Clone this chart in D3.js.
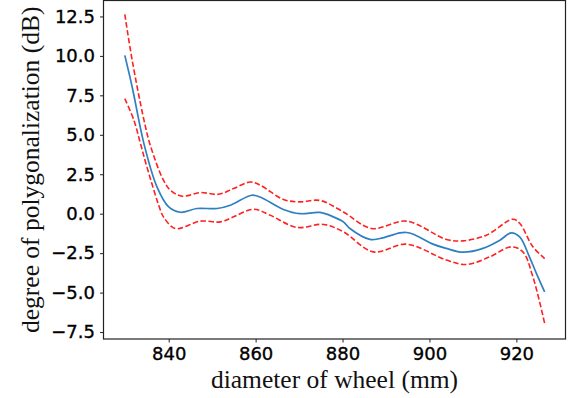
<!DOCTYPE html>
<html>
<head>
<meta charset="utf-8">
<script src="https://cdn.jsdelivr.net/npm/d3@7"></script>
<style>
  body { margin: 0; background: #fff; }
  svg { display: block; }
</style>
</head>
<body>
<div id="chart"></div>
<script>
// diameter (mm) / degree (dB)
const meanX = [829.9, 831.6, 834.3, 837.3, 840.0, 842.7, 846.5, 851.1, 854.2, 859.1, 861.0, 866.4, 870.2, 874.8, 877.9, 880.2, 881.7, 886.3, 888.6, 893.2, 894.7, 896.3, 900.8, 903.9, 907.7, 912.3, 916.2, 918.8, 920.8, 923.0, 924.6, 926.5];
const meanY = [10.03, 8.03, 4.44, 1.70, 0.43, 0.09, 0.33, 0.33, 0.54, 1.17, 1.06, 0.27, 0.0, 0.08, -0.20, -0.52, -0.94, -1.63, -1.57, -1.22, -1.19, -1.30, -1.93, -2.20, -2.44, -2.20, -1.68, -1.22, -1.49, -2.73, -3.78, -4.95];

const upperX = [829.9, 831.6, 834.3, 835.8, 838.8, 840.4, 843.1, 847.3, 851.5, 854.9, 858.8, 861.1, 866.4, 870.2, 874.8, 880.2, 886.7, 894.7, 903.9, 907.7, 913.1, 919.2, 920.8, 923.8, 926.5];
const upperY = [12.63, 9.72, 5.95, 4.30, 2.12, 1.49, 1.11, 1.34, 1.23, 1.59, 2.01, 1.80, 0.90, 0.75, 0.84, 0.11, -0.94, -0.47, -1.63, -1.72, -1.36, -0.35, -0.62, -2.10, -2.84];

const lowerX = [829.9, 832.0, 833.5, 835.0, 838.1, 838.8, 841.5, 847.3, 851.9, 854.9, 859.5, 863.3, 869.5, 875.6, 880.2, 887.1, 894.7, 903.9, 908.5, 913.9, 918.8, 921.5, 923.8, 926.5];
const lowerY = [7.29, 5.92, 4.45, 2.95, 0.22, -0.20, -0.94, -0.47, -0.52, -0.20, 0.28, -0.09, -0.87, -0.68, -1.15, -2.42, -1.93, -2.94, -3.22, -2.73, -2.10, -2.42, -4.00, -6.95];

const xTicks = [840, 860, 880, 900, 920];
const yTicks = [-7.5, -5.0, -2.5, 0.0, 2.5, 5.0, 7.5, 10.0, 12.5];

const xLabel = "diameter of wheel (mm)";
const yLabel = "degree of polygonalization (dB)";

const config = {
  width: 574,
  height: 398,
  margin: {top: 0.5, left: 103.5, right: 8.5, bottom: 59},
  domain: {x: [825, 931.3], y: [-7.94, 13.51]}
};

const innerW = config.width - config.margin.left - config.margin.right;
const innerH = config.height - config.margin.top - config.margin.bottom;

const svg = d3.select("#chart")
  .append("svg")
  .attr("width", config.width)
  .attr("height", config.height)
  .attr("viewBox", [0, 0, config.width, config.height]);

const xScale = d3.scaleLinear(config.domain.x, [config.margin.left, config.margin.left + innerW]);
const yScale = d3.scaleLinear(config.domain.y, [config.margin.top + innerH, config.margin.top]);

const xAxis = d3.axisBottom(xScale).tickValues(xTicks).tickSize(3.5).tickPadding(5).tickFormat(d3.format("d"));
const yAxis = d3.axisLeft(yScale).tickValues(yTicks).tickSize(3.5).tickPadding(5).tickFormat(d3.format(".1f"));

const fmtTick = g => g
  .call(g => g.select(".domain").remove())
  .call(g => g.selectAll(".tick line").attr("stroke", "#222").attr("stroke-width", 1))
  .call(g => g.selectAll(".tick text")
    .attr("font-family", "DejaVu Sans")
    .attr("font-size", 18)
    .attr("fill", "#000")
    .attr("stroke", "#000")
    .attr("stroke-width", 0.35));

svg.append("g")
  .attr("transform", `translate(0,${config.margin.top + innerH})`)
  .call(xAxis)
  .call(fmtTick);

svg.append("g")
  .attr("transform", `translate(${config.margin.left},0)`)
  .call(yAxis)
  .call(fmtTick)
  .call(g => g.selectAll(".tick text").text(d => d3.format(".1f")(d).replace("-", "\u2212")));

// frame
svg.append("rect")
  .attr("x", config.margin.left)
  .attr("y", config.margin.top)
  .attr("width", innerW)
  .attr("height", innerH)
  .attr("fill", "none")
  .attr("stroke", "#222")
  .attr("stroke-width", 1.2);

const line = (X, Y) => d3.line()
  .x(i => xScale(X[i]))
  .y(i => yScale(Y[i]))
  .curve(d3.curveCatmullRom.alpha(0.5))(d3.range(X.length));

svg.append("path")
  .attr("d", line(upperX, upperY))
  .attr("fill", "none")
  .attr("stroke", "#ff2020")
  .attr("stroke-width", 1.6)
  .attr("stroke-dasharray", "5.5,2.5");

svg.append("path")
  .attr("d", line(lowerX, lowerY))
  .attr("fill", "none")
  .attr("stroke", "#ff2020")
  .attr("stroke-width", 1.6)
  .attr("stroke-dasharray", "5.5,2.5");

svg.append("path")
  .attr("d", line(meanX, meanY))
  .attr("fill", "none")
  .attr("stroke", "#2f7fc1")
  .attr("stroke-width", 1.7);

svg.append("text")
  .attr("x", config.margin.left + innerW / 2)
  .attr("y", 388)
  .attr("text-anchor", "middle")
  .attr("font-family", "Liberation Serif")
  .attr("font-size", 25.5)
  .attr("fill", "#111")
  .text(xLabel);

svg.append("text")
  .attr("transform", `translate(39,${config.margin.top + innerH / 2}) rotate(-90)`)
  .attr("text-anchor", "middle")
  .attr("font-family", "Liberation Serif")
  .attr("font-size", 25.5)
  .attr("fill", "#111")
  .text(yLabel);
</script>
</body>
</html>
